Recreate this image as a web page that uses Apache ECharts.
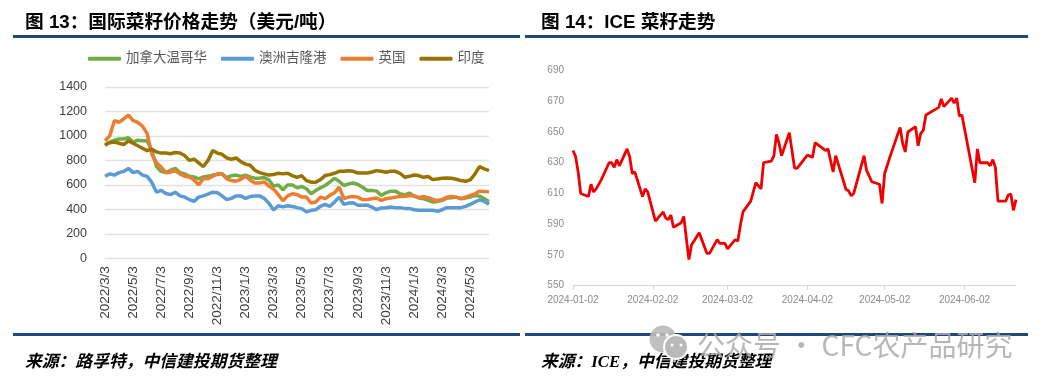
<!DOCTYPE html>
<html><head><meta charset="utf-8">
<style>html,body{margin:0;padding:0;background:#fff}#c{width:1045px;height:386px}</style>
<script src="https://cdn.jsdelivr.net/npm/echarts@6/dist/echarts.min.js"></script>
</head><body><div id="c"></div>
<script>
const seriesNames = ['加拿大温哥华','澳洲吉隆港','英国','印度'];
const vancouver = [920,950,965,975,975,985,950,965,960,960,880,750,710,700,720,735,700,690,670,665,650,665,670,680,685,690,660,675,680,670,680,665,655,655,660,640,590,600,560,600,
 600,576,587,568,527,554,576,595,622,654,630,595,608,616,603,581,554,554,549,514,535,549,549,527,519,533,508,495,487,473,460,465,473,492,495,500,487,492,500,514,508,487,465];
const kwinana = [670,690,680,700,710,735,700,710,680,670,620,540,555,530,520,540,510,500,480,465,500,510,525,540,535,510,480,490,510,510,490,505,510,510,490,450,395,430,420,430,
 424,414,406,379,392,397,424,441,424,460,500,441,451,454,433,433,435,419,397,411,414,419,414,414,408,408,397,392,392,392,392,384,397,414,414,414,414,424,441,460,478,465,441];
const uk = [960,1000,1125,1110,1140,1170,1125,1110,1080,1020,850,780,745,700,705,715,690,670,665,640,600,650,650,670,690,690,650,635,630,645,670,640,615,615,625,590,565,520,470,510,
 527,522,500,500,452,460,500,487,514,535,581,487,500,505,500,478,481,487,492,473,487,492,500,505,508,511,511,495,505,495,481,473,481,500,505,500,487,500,514,527,549,546,543];
const india = [930,945,950,940,930,960,940,920,900,880,890,870,860,860,855,865,860,840,800,810,780,750,800,880,860,850,820,810,820,790,770,760,720,700,690,680,685,695,690,695,
 676,662,676,635,622,622,643,676,684,695,711,711,716,711,697,697,697,705,716,711,703,711,711,695,662,670,681,676,662,668,643,649,654,657,654,646,635,630,641,689,751,730,716];
const yTicksLeft = [0,200,400,600,800,1000,1200,1400];
const categories = [];
for (let y = 2022, m = 3; categories.length < 83; m++) {
  if (m > 12) { m = 1; y++; }
  for (const d of [3,13,23]) categories.push(y + '/' + m + '/' + d);
}
categories.length = 83;

const iceDates = ['01-02','01-03','01-04','01-05','01-08','01-09','01-10','01-11','01-13','01-16','01-17','01-18','01-19','01-20','01-23','01-24','01-25','01-26','01-29','01-30','01-31',
 '02-03','02-06','02-07','02-08','02-09','02-10','02-13','02-14','02-16','02-17','02-20','02-23','02-24','02-27','02-28','03-01','03-02','03-05','03-06','03-07','03-08','03-11','03-13','03-15','03-16','03-19','03-20','03-21','03-22','03-23','03-26','03-28','03-29',
 '04-02','04-04','04-05','04-09','04-10','04-12','04-13','04-17','04-18','04-19','04-20','04-24','04-25','04-27','04-30','05-01','05-02','05-04','05-08','05-09','05-10','05-11','05-14','05-15','05-16','05-17','05-18','05-23','05-24','05-25','05-28','05-29','05-30','05-31',
 '06-01','06-06','06-07','06-08','06-11','06-12','06-13','06-14','06-15','06-18','06-19','06-20','06-21','06-22'];
const iceValues = [638,634,624,610,608,616,611,613,619,630,630,627,632,628,639,634,623,624,608,613,611,
 592,598,594,593,596,588,591,595,567,576.5,584.5,571,571,580,577.5,577.5,574,580,579,589.5,598,605,617,613,630,631,634.5,648.5,642.6,634.6,649.6,626.7,626.3,
 635,633.5,643,638,639,624,634.6,612.6,611.7,608.5,610,634.6,625,617.6,616,603.5,623,633.5,653,642.6,637,650,653.5,641,649,651,661,666,671.5,666.5,672,668.7,672,660.4,
 661,617,639,630,630,628,632,627,605,605,609,609.6,599,606];
const iceTicks = ['2024-01-02','2024-02-02','2024-03-02','2024-04-02','2024-05-02','2024-06-02'];
const yTicksRight = [550,570,590,610,630,650,670,690];

const colors = ['#70AD47','#5B9BD5','#ED7D31','#997300'];
const sans = '"Liberation Sans","Noto Sans CJK SC",sans-serif';
const ts = s => new Date(s + 'T00:00:00Z').getTime();
const fmt = t => new Date(t).toISOString().slice(0,10);

function rule(x, y, w) { return {type:'rect', shape:{x, y, width:w, height:3}, style:{fill:'#1F497D'}, z:1}; }
function label(x, y, text, font, fill, extra) {
  return Object.assign({type:'text', style:{x, y, text, font, fill, textVerticalAlign:'middle'}, z:2}, extra||{});
}
const chart = echarts.init(document.getElementById('c'), null, {renderer:'canvas'});
chart.setOption({
  animation:false,
  backgroundColor:'#fff',
  textStyle:{fontFamily:sans},
  legend:{left:83, top:47, itemWidth:33, itemHeight:4, itemGap:14, icon:'roundRect',
    data:seriesNames.map((name,i)=>({name, itemStyle:{color:colors[i]}})),
    textStyle:{fontSize:13.5, color:'#595959', fontFamily:sans}},
  grid:[{left:105, top:87, width:384, height:171.3},{left:573, top:70.5, width:443, height:215.2}],
  xAxis:[
    {type:'category', gridIndex:0, data:categories, boundaryGap:false,
     axisLine:{show:false}, axisTick:{show:false},
     axisLabel:{interval:5, rotate:90, fontSize:13.5, color:'#404040', margin:8, fontFamily:sans}},
    {type:'value', gridIndex:1, min:ts(iceTicks[0]), max:ts('2024-06-22'),
     axisLine:{onZero:false, lineStyle:{color:'#D9D9D9', width:1}},
     axisTick:{show:true, length:4, lineStyle:{color:'#D9D9D9'}, customValues:iceTicks.map(ts)},
     splitLine:{show:false},
     axisLabel:{customValues:iceTicks.map(ts), formatter:v=>fmt(v), fontSize:10, color:'#8C8C8C', margin:10, hideOverlap:false, fontFamily:sans}}
  ],
  yAxis:[
    {type:'value', gridIndex:0, min:yTicksLeft[0], max:1400, interval:200,
     axisLine:{show:false}, axisTick:{show:false},
     splitLine:{lineStyle:{color:'#E2E2E2', width:1.3}},
     axisLabel:{formatter:v=>String(v), fontSize:12.5, color:'#404040', margin:18, fontFamily:sans}},
    {type:'value', gridIndex:1, min:yTicksRight[0], max:690, interval:20,
     axisLine:{show:false}, axisTick:{show:false}, splitLine:{show:false},
     axisLabel:{fontSize:10, color:'#8C8C8C', margin:9, fontFamily:sans}}
  ],
  series:[
    ...[vancouver,kwinana,uk,india].map((d,i)=>({name:seriesNames[i], type:'line', xAxisIndex:0, yAxisIndex:0, data:d,
      showSymbol:false, symbol:'none', lineStyle:{width:3.5, color:colors[i]}, itemStyle:{color:colors[i]}})),
    {name:'ICE', type:'line', xAxisIndex:1, yAxisIndex:1, data:iceDates.map((d,i)=>[ts('2024-'+d), iceValues[i]]),
      showSymbol:false, symbol:'none', lineStyle:{width:2.8, color:'#F00000'}, itemStyle:{color:'#F00000'}}
  ],
  graphic:{elements:[
    label(25,23,'图 13：国际菜籽价格走势（美元/吨）','bold 18.7px '+sans,'#000'),
    label(541,23,'图 14：ICE 菜籽走势','bold 18.7px '+sans,'#000'),
    rule(13,35,507), rule(525,35,503),
    rule(13,333,507), rule(525,333,503),
    label(25,363,'来源：路孚特，中信建投期货整理','italic bold 16.8px "Liberation Serif","Noto Sans CJK SC",serif','#000'),
    label(541,363,'来源：ICE，中信建投期货整理','italic bold 16.8px "Liberation Serif","Noto Sans CJK SC",serif','#000'),
    {type:'circle', shape:{cx:663,cy:339,r:13.5}, style:{fill:'#B9B9B9', opacity:.9}, z:3},
    {type:'circle', shape:{cx:676,cy:347,r:12}, style:{fill:'#B9B9B9', stroke:'#fff', lineWidth:2}, z:4},
    {type:'circle', shape:{cx:658,cy:335,r:1.8}, style:{fill:'#fff'}, z:4},
    {type:'circle', shape:{cx:667,cy:335,r:1.8}, style:{fill:'#fff'}, z:4},
    {type:'circle', shape:{cx:672,cy:345,r:1.5}, style:{fill:'#fff'}, z:5},
    {type:'circle', shape:{cx:681,cy:345,r:1.5}, style:{fill:'#fff'}, z:5},
    label(697,345,'公众号 · CFC农产品研究','28px "Noto Sans CJK SC",sans-serif','rgba(170,170,170,.85)',{z:3})
  ]}
});
</script></body></html>
